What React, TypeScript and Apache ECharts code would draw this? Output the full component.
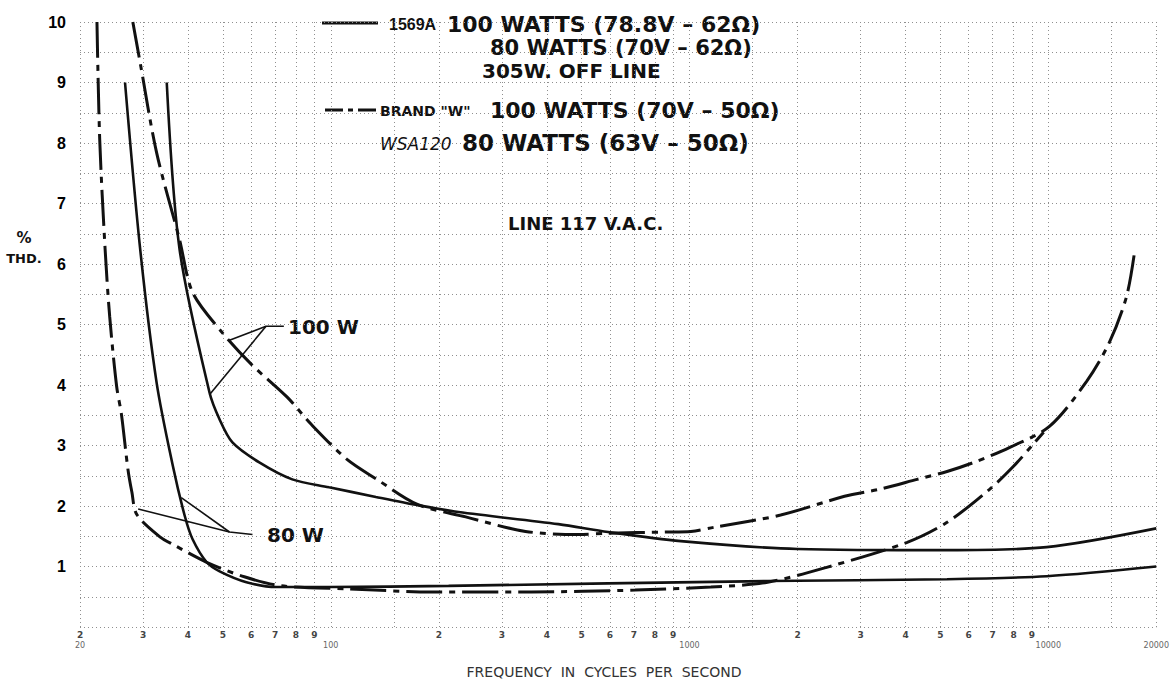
import React, { useEffect, useRef } from 'react';
import * as echarts from 'echarts';

// ---- Data (frequency in Hz, % THD) ----
const freq1569A100 = [34.9, 37.9, 45.9, 49.0, 53.2, 63.2, 78.1, 98.9, 133.6, 175.9, 227, 431, 593, 946, 2000, 5222, 9897, 20000];
const thd1569A100 = [9.0, 6.24, 3.88, 3.43, 3.05, 2.72, 2.44, 2.31, 2.15, 2.01, 1.9, 1.7, 1.57, 1.42, 1.29, 1.27, 1.32, 1.63];

const freq1569A80 = [26.7, 29.4, 32.7, 36.3, 39.2, 41.2, 45.1, 49.0, 58.2, 70.5, 98.9, 213, 1651, 5222, 9897, 20000];
const thd1569A80 = [9.0, 6.27, 4.04, 2.66, 1.83, 1.45, 1.07, 0.92, 0.74, 0.66, 0.66, 0.68, 0.76, 0.79, 0.84, 1.0];

const freqBrandW100 = [28.07, 29.4, 32.7, 37.9, 41.2, 49.6, 60.1, 75.6, 88.2, 111, 134.5, 173.8, 237.7, 349, 490, 593, 855, 1009, 1176, 1795, 2704, 3403, 4309, 5222, 6325, 7813, 10094, 12790, 14790, 16520, 17390];
const thdBrandW100 = [10.0, 9.34, 7.84, 6.4, 5.53, 4.88, 4.34, 3.8, 3.35, 2.77, 2.44, 2.03, 1.82, 1.58, 1.53, 1.55, 1.57, 1.58, 1.65, 1.85, 2.16, 2.28, 2.44, 2.57, 2.74, 2.97, 3.32, 4.06, 4.7, 5.46, 6.19];

const freqBrandW80 = [22.3, 22.7, 23.5, 24.2, 25.3, 26.1, 27.2, 27.9, 28.8, 33.4, 36.7, 45.1, 57.4, 72.8, 112.5, 191, 362, 705, 1147, 1651, 2425, 4044, 5222, 6873, 8014, 9166, 9707];
const thdBrandW80 = [10.0, 8.05, 6.24, 5.13, 3.98, 3.51, 2.61, 2.23, 1.86, 1.49, 1.35, 1.07, 0.83, 0.68, 0.63, 0.58, 0.58, 0.61, 0.66, 0.74, 0.99, 1.4, 1.73, 2.28, 2.66, 3.05, 3.22];

// annotation leader lines (data coordinates)
const lead100A = [[74, 4.97], [66, 4.97], [52.2, 4.74]];
const lead100B = [[66, 4.97], [45.9, 3.84]];
const lead80A = [[60.5, 1.53], [52.2, 1.57], [29.05, 1.95]];
const lead80B = [[52.2, 1.57], [38.3, 2.14]];

// axis ticks
const freqGrid = [20, 30, 40, 50, 60, 70, 80, 90, 100, 150, 200, 300, 400, 500, 600, 700, 800, 900, 1000, 1500, 2000, 3000, 4000, 5000, 6000, 7000, 8000, 9000, 10000, 15000, 20000];
const freqLabels = [20, 30, 40, 50, 60, 70, 80, 90, 100, 200, 300, 400, 500, 600, 700, 800, 900, 1000, 2000, 3000, 4000, 5000, 6000, 7000, 8000, 9000, 10000, 20000];
const decadeLabels = [100, 1000, 10000, 20000];
const thdLabels = [1, 2, 3, 4, 5, 6, 7, 8, 9, 10];

const zip = (xs: number[], ys: number[]) => xs.map((x, i) => [x, ys[i]]);

const INK = '#111';

export default function App() {
  const ref = useRef<HTMLDivElement>(null);
  useEffect(() => {
    if (!ref.current) return;
    const chart = echarts.init(ref.current, null, { renderer: 'svg' });
    const lg = (v: number) => Math.log10(v);
    const boldFont = (s: number) => `bold ${s}px "DejaVu Sans"`;
    const solid = { color: INK, width: 2.6, type: 'solid' as const };
    const dashDot = { color: INK, width: 3, type: [36, 7, 6, 7] as any };
    const lineSeries = (name: string, data: number[][], lineStyle: any, smooth: any = 0.3) => ({
      name,
      type: 'line',
      xAxisIndex: 0,
      data,
      smooth,
      symbol: 'none',
      lineStyle,
      silent: true,
    });
    const option: any = {
      animation: false,
      backgroundColor: '#fff',
      grid: { left: 80, right: 12, top: 22, bottom: 57 },
      xAxis: [
        { type: 'log', logBase: 10, min: 20, max: 20000, position: 'bottom', show: false },
        {
          type: 'value',
          min: lg(20),
          max: lg(20000),
          position: 'bottom',
          axisLine: { show: false },
          axisTick: { show: false, customValues: freqGrid.map(lg) },
          splitLine: { show: true, lineStyle: { color: '#8f8f8f', width: 1, type: [1, 3] } },
          axisLabel: {
            customValues: freqLabels.map(lg),
            margin: 2,
            formatter: (v: number) => {
              const f = Math.round(Math.pow(10, v));
              if (f === 20) return '{d|2}\n{n|20}';
              if (decadeLabels.indexOf(f) >= 0) return '{d| }\n{n|' + f + '}';
              return '{d|' + String(f)[0] + '}';
            },
            rich: {
              d: { fontSize: 9, lineHeight: 11, color: '#444', fontFamily: 'DejaVu Sans', fontWeight: 'bold' },
              n: { fontSize: 8, lineHeight: 11, color: '#666', fontFamily: 'DejaVu Sans' },
            },
          },
        },
      ],
      yAxis: {
        type: 'value',
        min: 0,
        max: 10,
        interval: 0.5,
        axisLine: { show: false },
        axisTick: { show: false },
        splitLine: { show: true, lineStyle: { color: '#8f8f8f', width: 1, type: [1, 3] } },
        axisLabel: {
          margin: 14,
          color: '#000',
          fontSize: 16,
          fontWeight: 'bold',
          fontFamily: 'Liberation Sans',
          formatter: (v: number) => (thdLabels.indexOf(v) >= 0 ? String(v) : ''),
        },
      },
      series: [
        lineSeries('1569A 100 W', zip(freq1569A100, thd1569A100), solid),
        lineSeries('1569A 80 W', zip(freq1569A80, thd1569A80), solid),
        lineSeries('Brand W 100 W', zip(freqBrandW100, thdBrandW100), dashDot),
        lineSeries('Brand W 80 W', zip(freqBrandW80, thdBrandW80), dashDot),
        lineSeries('lead100a', lead100A, { color: INK, width: 1.6 }, false),
        lineSeries('lead100b', lead100B, { color: INK, width: 1.6 }, false),
        lineSeries('lead80a', lead80A, { color: INK, width: 1.6 }, false),
        lineSeries('lead80b', lead80B, { color: INK, width: 1.6 }, false),
      ],
      graphic: [
        { type: 'line', shape: { x1: 322, y1: 23, x2: 378, y2: 23 }, style: { stroke: INK, lineWidth: 3 } },
        { type: 'text', style: { text: '1569A', x: 389, y: 24, font: 'bold 16px "Liberation Sans"', fill: INK, textVerticalAlign: 'middle' } },
        { type: 'text', style: { text: '100 WATTS (78.8V – 62Ω)', x: 447, y: 24, font: boldFont(22), fill: INK, textVerticalAlign: 'middle' } },
        { type: 'text', style: { text: '80 WATTS (70V – 62Ω)', x: 490, y: 48, font: boldFont(21), fill: INK, textVerticalAlign: 'middle' } },
        { type: 'text', style: { text: '305W. OFF LINE', x: 482, y: 71, font: boldFont(20), fill: INK, textVerticalAlign: 'middle' } },
        { type: 'line', shape: { x1: 325, y1: 110, x2: 377, y2: 110 }, style: { stroke: INK, lineWidth: 3, lineDash: [18, 5, 5, 5] } },
        { type: 'text', style: { text: 'BRAND "W"', x: 380, y: 111, font: boldFont(14), fill: INK, textVerticalAlign: 'middle' } },
        { type: 'text', style: { text: '100 WATTS (70V – 50Ω)', x: 490, y: 110, font: boldFont(22), fill: INK, textVerticalAlign: 'middle' } },
        { type: 'text', style: { text: 'WSA120', x: 380, y: 144, font: 'italic 17px "DejaVu Sans"', fill: INK, textVerticalAlign: 'middle' } },
        { type: 'text', style: { text: '80 WATTS (63V – 50Ω)', x: 462, y: 143, font: boldFont(23), fill: INK, textVerticalAlign: 'middle' } },
        { type: 'text', style: { text: 'LINE 117 V.A.C.', x: 508, y: 223, font: boldFont(18), fill: INK, textVerticalAlign: 'middle' } },
        { type: 'text', style: { text: '100 W', x: 288, y: 327, font: boldFont(20), fill: INK, textVerticalAlign: 'middle' } },
        { type: 'text', style: { text: '80 W', x: 267, y: 535, font: boldFont(20), fill: INK, textVerticalAlign: 'middle' } },
        { type: 'text', style: { text: '%', x: 24, y: 238, font: 'bold 15px "DejaVu Sans"', fill: INK, textAlign: 'center', textVerticalAlign: 'middle' } },
        { type: 'text', style: { text: 'THD.', x: 24, y: 258, font: 'bold 13px "DejaVu Sans"', fill: INK, textAlign: 'center', textVerticalAlign: 'middle' } },
        { type: 'text', style: { text: 'FREQUENCY  IN  CYCLES  PER  SECOND', x: 604, y: 672, font: '14px "DejaVu Sans"', fill: '#333', textAlign: 'center', textVerticalAlign: 'middle' } },
      ],
    };
    chart.setOption(option);
    return () => chart.dispose();
  }, []);
  return <div ref={ref} style={{ width: 1172, height: 684, position: 'absolute', left: 0, top: 0 }} />;
}
